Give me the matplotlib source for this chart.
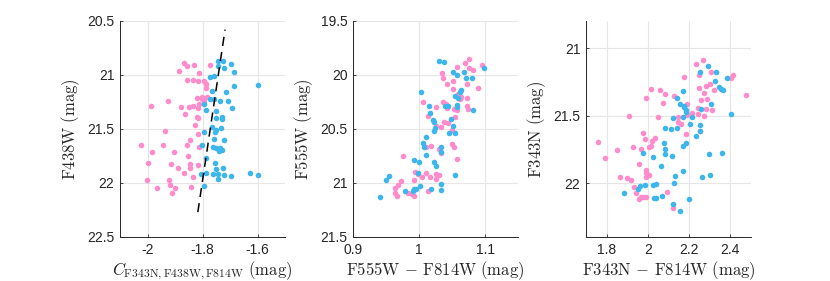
import numpy as np
import matplotlib
matplotlib.use("Agg")
import matplotlib.pyplot as plt

plt.rcParams['font.family'] = ['Liberation Sans', 'DejaVu Sans']
plt.rcParams['mathtext.fontset'] = 'cm'
plt.rcParams['axes.unicode_minus'] = False

PINK = '#ff8ccb'
BLUE = '#3db6ec'

# ---- panel 1: pseudo-colour vs F438W
p1_pink_x = [-1.866, -1.857, -1.832, -1.885, -1.813, -1.771, -1.856, -1.835, -1.815, -1.796,
             -1.789, -1.787, -1.801, -1.782, -1.821, -1.802, -1.926, -1.795, -1.811, -1.833,
             -1.849, -1.879, -1.988, -1.818, -1.862, -1.821, -1.818, -1.828, -1.938, -1.817,
             -1.845, -2.022, -1.944, -1.857, -1.811, -1.982, -1.902, -1.854, -2.0, -1.913,
             -1.846, -1.815, -1.888, -1.845, -1.866, -2.001, -1.923, -1.834, -1.92, -1.967,
             -1.9, -1.911, -1.843]
p1_pink_y = [20.889, 20.92, 20.908, 20.963, 20.98, 20.908, 21.046, 21.049, 21.058, 21.052,
             21.08, 21.12, 21.2, 21.2, 21.212, 21.222, 21.24, 21.237, 21.268, 21.289,
             21.292, 21.292, 21.286, 21.305, 21.36, 21.385, 21.397, 21.462, 21.514, 21.545,
             21.603, 21.649, 21.649, 21.649, 21.668, 21.714, 21.714, 21.751, 21.812, 21.825,
             21.822, 21.834, 21.858, 21.858, 21.911, 21.972, 21.975, 21.948, 22.018, 22.049,
             22.049, 22.089, 22.034]
p1_blue_x = [-1.743, -1.724, -1.695, -1.723, -1.687, -1.745, -1.771, -1.759, -1.713, -1.687,
             -1.599, -1.767, -1.757, -1.772, -1.735, -1.709, -1.793, -1.691, -1.789, -1.752,
             -1.751, -1.729, -1.729, -1.767, -1.752, -1.732, -1.793, -1.754, -1.757, -1.722,
             -1.801, -1.761, -1.751, -1.738, -1.728, -1.74, -1.789, -1.755, -1.724, -1.75,
             -1.789, -1.763, -1.743, -1.722, -1.696, -1.805, -1.743, -1.628, -1.598, -1.794]
p1_blue_y = [20.868, 20.874, 20.902, 20.938, 20.972, 20.917, 21.022, 21.009, 21.154, 21.105,
             21.089, 21.151, 21.218, 21.222, 21.237, 21.237, 21.268, 21.302, 21.326, 21.332,
             21.4, 21.391, 21.406, 21.477, 21.505, 21.495, 21.532, 21.529, 21.588, 21.603,
             21.649, 21.668, 21.674, 21.68, 21.692, 21.705, 21.772, 21.815, 21.858, 21.874,
             21.911, 21.914, 21.914, 21.929, 21.938, 21.92, 21.96, 21.908, 21.923, 22.025]
divider_x = [-1.817, -1.718]
divider_y = [22.27, 20.58]

# ---- panel 2: F555W - F814W vs F555W
p2_pink_x = [1.075, 1.069, 1.057, 1.096, 1.076, 1.082, 1.035, 1.037, 1.052, 1.043,
             1.051, 1.073, 1.090, 1.059, 1.063, 1.073, 1.062, 1.006, 1.036, 1.041,
             1.026, 1.042, 1.014, 1.053, 1.058, 1.072, 1.074, 1.054, 1.038, 1.044,
             1.025, 1.034, 1.050, 1.018, 1.050, 1.053, 1.010, 1.031, 0.976, 1.034,
             1.058, 0.994, 0.998, 1.011, 1.026, 1.005, 1.017, 1.030, 0.972, 0.968,
             0.963, 0.964, 0.966, 0.984, 0.990, 0.993, 1.014, 1.025, 0.993]
p2_pink_y = [19.855, 19.886, 19.923, 19.911, 19.939, 19.957, 19.979, 20.025, 20.056, 20.087,
             20.134, 20.084, 20.124, 20.177, 20.208, 20.211, 20.226, 20.251, 20.251, 20.270,
             20.298, 20.307, 20.381, 20.319, 20.325, 20.291, 20.313, 20.387, 20.437, 20.440,
             20.471, 20.483, 20.511, 20.659, 20.638, 20.665, 20.665, 20.681, 20.752, 20.724,
             20.777, 20.897, 20.919, 20.910, 20.913, 20.944, 20.947, 20.928, 20.984, 21.021,
             21.049, 21.092, 21.120, 21.092, 21.104, 21.117, 21.074, 20.959, 20.974]
p2_blue_x = [1.030, 1.038, 1.051, 1.057, 1.068, 1.071, 1.080, 1.098, 1.003, 1.064,
             1.062, 1.055, 1.059, 1.039, 1.044, 1.058, 1.058, 1.015, 1.016, 1.082,
             1.049, 1.021, 1.022, 1.024, 1.022, 1.052, 1.046, 1.054, 1.011, 1.006,
             1.007, 1.033, 1.034, 1.010, 0.993, 1.000, 1.023, 1.026, 1.054, 0.999,
             0.955, 0.950, 1.033, 1.002, 0.993, 0.979, 0.995, 0.991, 1.018, 1.034, 0.941]
p2_blue_y = [19.871, 19.880, 19.973, 20.001, 19.976, 20.032, 20.032, 19.933, 20.155, 20.143,
             20.158, 20.196, 20.211, 20.288, 20.288, 20.276, 20.298, 20.291, 20.356, 20.325,
             20.403, 20.418, 20.437, 20.492, 20.523, 20.468, 20.536, 20.536, 20.570, 20.628,
             20.665, 20.668, 20.715, 20.740, 20.789, 20.801, 20.801, 20.845, 20.922, 20.910,
             20.937, 20.968, 21.005, 21.024, 21.058, 21.070, 21.058, 21.070, 21.058, 21.064, 21.129]

# ---- panel 3: F343N - F814W vs F343N
p3_pink_x = [2.235, 2.267, 2.306, 2.248, 2.176, 2.403, 2.415, 2.299, 2.28, 2.246,
             2.322, 2.27, 2.288, 2.014, 2.059, 2.085, 1.991, 2.072, 2.129, 2.191,
             2.256, 2.243, 2.28, 2.311, 2.213, 2.244, 2.27, 2.191, 2.145, 2.16,
             2.147, 2.048, 1.907, 2.252, 2.186, 1.978, 1.988, 2.035, 1.758, 1.794,
             1.852, 1.93, 1.967, 2.017, 2.004, 2.021, 1.957, 1.991, 1.991, 2.006,
             1.993, 1.866, 1.897, 1.917, 1.933, 1.944, 1.959, 1.967, 1.983, 1.991,
             2.095, 2.124, 2.475]
p3_pink_y = [21.119, 21.091, 21.175, 21.2, 21.217, 21.225, 21.202, 21.269, 21.279, 21.294,
             21.309, 21.333, 21.38, 21.301, 21.314, 21.338, 21.37, 21.405, 21.358, 21.415,
             21.385, 21.444, 21.454, 21.457, 21.481, 21.486, 21.504, 21.499, 21.511, 21.56,
             21.551, 21.514, 21.501, 21.615, 21.64, 21.63, 21.674, 21.664, 21.699, 21.815,
             21.758, 21.736, 21.751, 21.728, 21.733, 21.691, 21.857, 21.901, 21.926, 21.938,
             21.953, 21.958, 21.963, 21.975, 22.032, 22.072, 22.121, 22.104, 22.104, 22.104,
             22.067, 22.183, 21.346]
p3_blue_x = [2.29, 2.251, 2.33, 2.384, 2.327, 2.345, 2.356, 2.366, 2.17, 2.141,
             2.157, 2.176, 2.183, 2.184, 2.176, 2.259, 2.306, 2.213, 2.124, 2.17,
             2.085, 2.111, 2.139, 2.205, 2.251, 2.251, 2.235, 2.405, 2.183, 2.168,
             2.079, 2.082, 2.085, 2.024, 2.118, 1.978, 2.359, 2.296, 2.063, 2.171,
             2.131, 2.126, 2.037, 2.025, 1.988, 1.962, 1.952, 2.069, 2.03, 2.04,
             1.884, 2.2, 2.124, 2.157, 2.261, 2.301]
p3_blue_y = [21.136, 21.18, 21.175, 21.222, 21.242, 21.289, 21.304, 21.314, 21.316, 21.368,
             21.412, 21.437, 21.462, 21.474, 21.43, 21.454, 21.415, 21.514, 21.521, 21.511,
             21.59, 21.598, 21.595, 21.56, 21.573, 21.617, 21.649, 21.491, 21.704, 21.728,
             21.704, 21.748, 21.788, 21.807, 21.802, 21.78, 21.778, 21.783, 21.874, 21.909,
             21.951, 22.002, 22.01, 22.015, 22.012, 22.025, 22.042, 22.094, 22.111, 22.111,
             22.077, 22.116, 22.158, 22.205, 21.958, 21.943]

panels = [
    dict(pink=(p1_pink_x, p1_pink_y), blue=(p1_blue_x, p1_blue_y),
         xlim=(-2.1, -1.5), ylim=(22.5, 20.5),
         xticks=[-2, -1.8, -1.6], yticks=[20.5, 21, 21.5, 22, 22.5],
         xlabel=r'$C_{\mathrm{F343N,F438W,F814W}}\ \mathrm{(mag)}$',
         ylabel=r'$\mathrm{F438W\ (mag)}$'),
    dict(pink=(p2_pink_x, p2_pink_y), blue=(p2_blue_x, p2_blue_y),
         xlim=(0.9, 1.15), ylim=(21.5, 19.5),
         xticks=[0.9, 1, 1.1], yticks=[19.5, 20, 20.5, 21, 21.5],
         xlabel=r'$\mathrm{F555W}\,-\,\mathrm{F814W\ (mag)}$',
         ylabel=r'$\mathrm{F555W\ (mag)}$'),
    dict(pink=(p3_pink_x, p3_pink_y), blue=(p3_blue_x, p3_blue_y),
         xlim=(1.7, 2.5), ylim=(22.4, 20.8),
         xticks=[1.8, 2, 2.2, 2.4], yticks=[21, 21.5, 22],
         xlabel=r'$\mathrm{F343N}\,-\,\mathrm{F814W\ (mag)}$',
         ylabel=r'$\mathrm{F343N\ (mag)}$'),
]

fig = plt.figure(figsize=(8.3, 2.81), dpi=100)
lefts = [120 / 830, 353 / 830, 586 / 830]
for i, (left, p) in enumerate(zip(lefts, panels)):
    ax = fig.add_axes([left, 44 / 281, 165 / 830, 216 / 281])
    ax.scatter(*p['pink'], s=16, color=PINK, linewidths=0, zorder=3)
    ax.scatter(*p['blue'], s=16, color=BLUE, linewidths=0, zorder=3)
    if i == 0:
        ax.plot(divider_x, divider_y, color='k', lw=1.1, dashes=(6, 4), zorder=4)
    ax.set_xlim(*p['xlim'])
    ax.set_ylim(*p['ylim'])
    ax.set_xticks(p['xticks'])
    ax.set_xticklabels([f'{t:g}' for t in p['xticks']])
    ax.set_yticks(p['yticks'])
    ax.set_yticklabels([f'{t:g}' for t in p['yticks']])
    ax.grid(True, color='#e6e6e6', lw=0.8)
    ax.set_axisbelow(True)
    for s in ['top', 'right']:
        ax.spines[s].set_visible(False)
    for s in ['left', 'bottom']:
        ax.spines[s].set_color('#262626')
        ax.spines[s].set_linewidth(0.7)
    ax.tick_params(direction='in', length=2.5, width=0.6, colors='#262626',
                   labelsize=10, pad=4)
    ax.set_xlabel(p['xlabel'], fontsize=12, color='#262626', labelpad=2)
    ax.set_ylabel(p['ylabel'], fontsize=12, color='#262626', labelpad=4)

fig.savefig('out.png', dpi=100)
